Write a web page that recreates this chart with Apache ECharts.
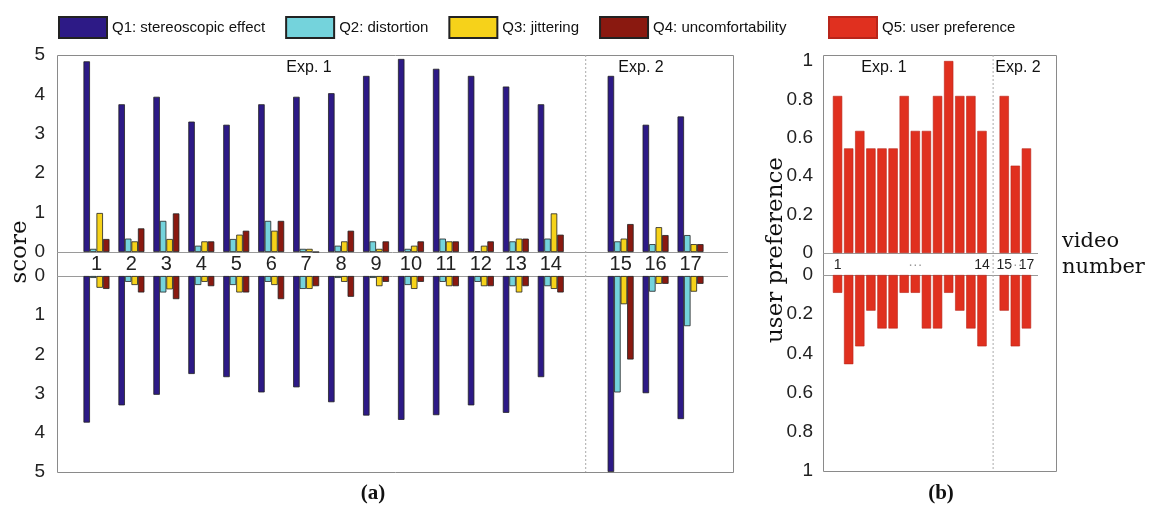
<!DOCTYPE html>
<html>
<head>
<meta charset="utf-8">
<script src="https://cdn.jsdelivr.net/npm/echarts@6/dist/echarts.min.js"></script>
<style>html,body{margin:0;padding:0;background:#fff}#c{width:1151px;height:507px}</style>
</head>
<body>
<div id="c"></div>
<script>
// ---------- data ----------
const videos = ['1','2','3','4','5','6','7','8','9','10','11','12','13','14','','15','16','17'];
// panel (a), upper half (scores above the band)
const q1Up = [4.84,3.75,3.94,3.31,3.23,3.75,3.94,4.03,4.47,4.90,4.65,4.47,4.20,3.75,'-',4.47,3.23,3.44];
const q2Up = [0.08,0.34,0.79,0.16,0.33,0.79,0.08,0.16,0.27,0.08,0.34,0.02,0.27,0.34,'-',0.27,0.20,0.43];
const q3Up = [0.99,0.27,0.33,0.27,0.44,0.54,0.08,0.27,0.08,0.16,0.27,0.16,0.34,0.98,'-',0.34,0.63,0.20];
const q4Up = [0.33,0.60,0.98,0.27,0.54,0.79,0.00,0.54,0.27,0.27,0.27,0.27,0.34,0.44,'-',0.71,0.43,0.20];
// panel (a), lower half (scores below the band)
const q1Down = [3.74,3.30,3.03,2.50,2.58,2.97,2.84,3.22,3.56,3.67,3.55,3.30,3.49,2.58,'-',5.00,2.99,3.65];
const q2Down = [0.05,0.15,0.42,0.23,0.23,0.15,0.33,0.05,0.05,0.23,0.15,0.15,0.26,0.26,'-',2.97,0.40,1.28];
const q3Down = [0.30,0.23,0.34,0.15,0.42,0.23,0.33,0.15,0.26,0.33,0.26,0.26,0.42,0.33,'-',0.72,0.20,0.40];
const q4Down = [0.33,0.42,0.59,0.26,0.42,0.59,0.26,0.53,0.15,0.15,0.26,0.26,0.26,0.42,'-',2.13,0.20,0.20];
// panel (b)
const prefUp   = [0.818,0.545,0.636,0.545,0.545,0.545,0.818,0.636,0.636,0.818,1.0,0.818,0.818,0.636,'-',0.818,0.455,0.545];
const prefDown = [0.091,0.455,0.364,0.182,0.273,0.273,0.091,0.091,0.273,0.273,0.091,0.182,0.273,0.364,'-',0.182,0.364,0.273];
const bLabels = {0:'1', 7:'{d|\u00b7\u00b7\u00b7}', 13:'14', 15:'15', 16:'{d|\u00b7\u00b7\u00b7}', 17:'17'};
const scoreTicks = [0,1,2,3,4,5];
const names = ['Q1: stereoscopic effect','Q2: distortion','Q3: jittering','Q4: uncomfortability','Q5: user preference'];
const colors = ['#2d1a86','#74d3dc','#f6d21a','#8a1910','#e0301f'];

// ---------- layout ----------
const A = {left:79, width:629, top1:55, h1:197, top2:276, h2:196, boxL:57, boxR:733, boxT:55, boxB:472};
const B = {left:832, width:200, top1:61, h1:192, top2:275, h2:196, boxL:823, boxR:1056, boxT:55, boxB:471};
const sans = 'Liberation Sans, Arial, sans-serif';
const serifLbl = 'DejaVu Serif, serif';

const chart = echarts.init(document.getElementById('c'), null, {renderer:'canvas'});

function catAxis(grid, show, fs, margin, fmt){
  return {type:'category', gridIndex:grid, data:videos, boundaryGap:true,
    axisLine:{show:false}, axisTick:{show:false}, splitLine:{show:false},
    axisLabel:{show:show, interval:0, fontSize:fs, fontFamily:sans, color:'#222', margin:margin, formatter:fmt,
      rich:{d:{color:'#999', fontSize:fs, fontFamily:sans}}}};
}
function valAxis(grid, max, interval, inverse, margin, fs){
  return {type:'value', gridIndex:grid, min:0, max:max, interval:interval, inverse:inverse,
    axisLine:{show:false}, axisTick:{show:false}, splitLine:{show:false},
    axisLabel:{fontSize:fs, fontFamily:sans, color:'#222', margin:margin}};
}
const border = {borderColor:'#222', borderWidth:0.8};
function bar(name, idx, data, xi, yi){
  return {type:'bar', name:name, xAxisIndex:xi, yAxisIndex:yi, data:data,
    barWidth:6.5, barGap:'0%', itemStyle:Object.assign({color:colors[idx]}, border), animation:false};
}

const series = [];
const ups = [q1Up,q2Up,q3Up,q4Up], downs = [q1Down,q2Down,q3Down,q4Down];
for (let i=0;i<4;i++) series.push(bar(names[i], i, ups[i], 0, 0));
for (let i=0;i<4;i++) series.push(bar(names[i], i, downs[i], 1, 1));
series.push({type:'bar', name:names[4], xAxisIndex:2, yAxisIndex:2, data:prefUp, barCategoryGap:'16%',
  itemStyle:{color:colors[4], borderColor:'#b8251a', borderWidth:0.6}, animation:false});
series.push({type:'bar', name:names[4], xAxisIndex:3, yAxisIndex:3, data:prefDown, barCategoryGap:'16%',
  itemStyle:{color:colors[4], borderColor:'#b8251a', borderWidth:0.6}, animation:false});

const slotA = A.width/videos.length, slotB = B.width/videos.length;
const gapIdx = videos.indexOf('');
const dashA = A.left + (gapIdx+0.5)*slotA, dashB = B.left + (gapIdx+0.5)*slotB;
const lineStyle = {stroke:'#9a9a9a', lineWidth:1};
const dotStyle = {stroke:'#aaa', lineWidth:1, lineDash:[2,2]};
function txt(t, x, y, font, opts){
  return Object.assign({type:'text', x:x, y:y, silent:true,
    style:Object.assign({text:t, font:font, fill:'#111', textAlign:'center', textVerticalAlign:'middle'}, opts||{})});
}

const graphic = [
  {type:'rect', shape:{x:A.boxL+0.5, y:A.boxT+0.5, width:A.boxR-A.boxL, height:A.boxB-A.boxT}, style:{fill:'none', stroke:'#8a8a8a', lineWidth:1}, silent:true, z:-1},
  {type:'rect', shape:{x:B.boxL+0.5, y:B.boxT+0.5, width:B.boxR-B.boxL, height:B.boxB-B.boxT}, style:{fill:'none', stroke:'#8a8a8a', lineWidth:1}, silent:true, z:-1},
  {type:'line', shape:{x1:A.boxL, y1:A.top1+A.h1+0.5, x2:A.boxR-5, y2:A.top1+A.h1+0.5}, style:lineStyle, silent:true},
  {type:'line', shape:{x1:A.boxL, y1:A.top2+0.5, x2:A.boxR-5, y2:A.top2+0.5}, style:lineStyle, silent:true},
  {type:'line', shape:{x1:B.boxL, y1:B.top1+B.h1+0.5, x2:B.left+B.width+6, y2:B.top1+B.h1+0.5}, style:lineStyle, silent:true},
  {type:'line', shape:{x1:B.boxL, y1:B.top2+0.5, x2:B.left+B.width+6, y2:B.top2+0.5}, style:lineStyle, silent:true},
  {type:'line', shape:{x1:dashA, y1:A.boxT, x2:dashA, y2:A.boxB}, style:dotStyle, silent:true},
  {type:'line', shape:{x1:dashB, y1:B.boxT, x2:dashB, y2:B.boxB}, style:dotStyle, silent:true},
  txt('Exp. 1', 309, 68, '16px '+sans),
  txt('Exp. 2', 641, 68, '16px '+sans),
  txt('Exp. 1', 884, 68, '16px '+sans),
  txt('Exp. 2', 1018, 68, '16px '+sans),
  txt('(a)', 373, 494, 'bold 21px Liberation Serif, serif'),
  txt('(b)', 941, 494, 'bold 21px Liberation Serif, serif'),
  Object.assign(txt('score', 20, 252, '23px '+serifLbl), {rotation:Math.PI/2}),
  Object.assign(txt('user preference', 776, 250, '23px '+serifLbl), {rotation:Math.PI/2}),
  txt('video', 1062, 242, '21px '+serifLbl, {textAlign:'left'}),
  txt('number', 1062, 268, '21px '+serifLbl, {textAlign:'left'})
];

const legendText = {fontFamily:sans, fontSize:15, color:'#111'};
chart.setOption({
  backgroundColor:'#fff',
  animation:false,
  legend:[
    {data:names.slice(0,4), left:53, top:11, itemWidth:48, itemHeight:21, itemGap:20, icon:'rect',
     textStyle:legendText, selectedMode:false},
    {data:[names[4]], left:823, top:11, itemWidth:48, itemHeight:21, icon:'rect',
     textStyle:legendText, selectedMode:false}
  ],
  grid:[
    {left:A.left, top:A.top1, width:A.width, height:A.h1},
    {left:A.left, top:A.top2, width:A.width, height:A.h2},
    {left:B.left, top:B.top1, width:B.width, height:B.h1},
    {left:B.left, top:B.top2, width:B.width, height:B.h2}
  ],
  xAxis:[
    catAxis(0, true, 20, 2),
    catAxis(1, false, 20, 2),
    catAxis(2, true, 14, 5, function(v, i){ return bLabels[i] || ''; }),
    catAxis(3, false, 14, 4)
  ],
  yAxis:[
    valAxis(0, scoreTicks[scoreTicks.length-1], 1, false, 34, 19),
    valAxis(1, scoreTicks[scoreTicks.length-1], 1, true, 34, 19),
    valAxis(2, 1, 0.2, false, 19, 19),
    valAxis(3, 1, 0.2, true, 19, 19)
  ],
  series:series,
  graphic:graphic
});
</script>
</body>
</html>
